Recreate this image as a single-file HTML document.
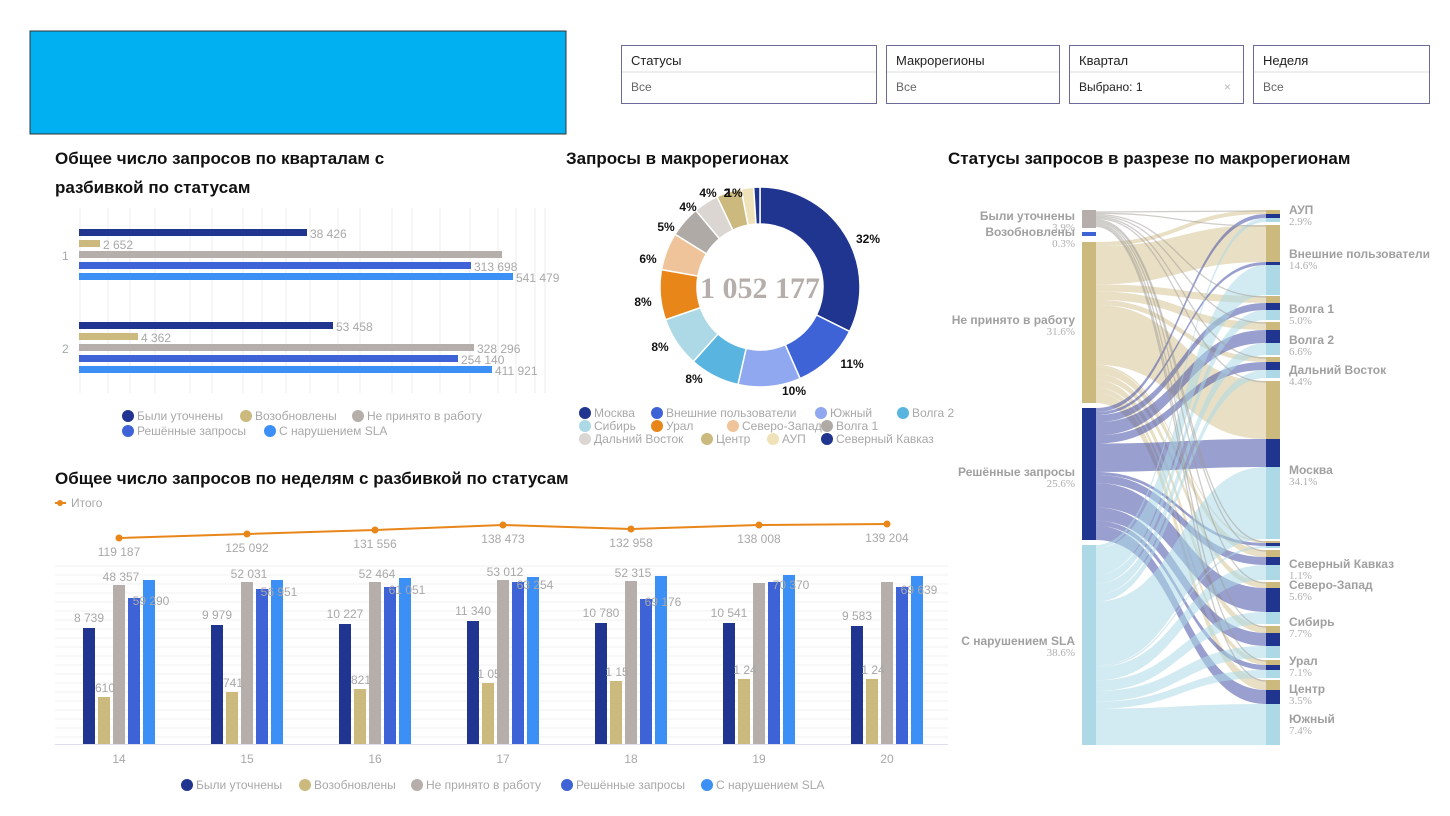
<!DOCTYPE html>
<html><head><meta charset="utf-8"><style>
body{margin:0;background:#fff;}
svg{display:block;font-family:"Liberation Sans",sans-serif;}
.t{font-weight:bold;font-size:17px;fill:#111}
.g{fill:#a8a8a8;font-size:12px}
.p{font-weight:bold;font-size:12px;fill:#111}
</style></head><body>
<svg id="s" width="1450" height="816" xmlns="http://www.w3.org/2000/svg">
<rect x="30" y="31" width="536" height="103" fill="#00b0f0" stroke="#333" stroke-width="1"/>
<g font-size="13" fill="#222">
<rect x="621.5" y="45.5" width="255" height="58" fill="#fff" stroke="#6b6b9a"/><text x="631" y="65">Статусы</text><line x1="622" y1="72" x2="876" y2="72" stroke="#ddd"/><text x="631" y="91" fill="#666" font-size="12">Все</text>
<rect x="886.5" y="45.5" width="173" height="58" fill="#fff" stroke="#6b6b9a"/><text x="896" y="65">Макрорегионы</text><line x1="887" y1="72" x2="1059" y2="72" stroke="#ddd"/><text x="896" y="91" fill="#666" font-size="12">Все</text>
<rect x="1069.5" y="45.5" width="174" height="58" fill="#fff" stroke="#6b6b9a"/><text x="1079" y="65">Квартал</text><line x1="1070" y1="72" x2="1243" y2="72" stroke="#ddd"/><text x="1079" y="91" font-size="12">Выбрано: 1</text><text x="1224" y="91" fill="#bbb" font-size="12">×</text>
<rect x="1253.5" y="45.5" width="176" height="58" fill="#fff" stroke="#6b6b9a"/><text x="1263" y="65">Неделя</text><line x1="1254" y1="72" x2="1429" y2="72" stroke="#ddd"/><text x="1263" y="91" fill="#666" font-size="12">Все</text>
</g>
<text class="t" x="55" y="164">Общее число запросов по кварталам с</text>
<text class="t" x="55" y="193">разбивкой по статусам</text>
<text class="t" x="566" y="164">Запросы в макрорегионах</text>
<text class="t" x="948" y="164">Статусы запросов в разрезе по макрорегионам</text>
<text class="t" x="55" y="484">Общее число запросов по неделям с разбивкой по статусам</text>
<g id="hb"></g><g id="dn"></g><g id="wk"></g><g id="sk"></g>
</svg>
<script>
var NS="http://www.w3.org/2000/svg";
function el(p,t,a,txt){var e=document.createElementNS(NS,t);for(var k in a)e.setAttribute(k,a[k]);if(txt!=null)e.textContent=txt;document.getElementById(p).appendChild(e);return e;}
var C=["#1f3590","#cbb97e","#b5aeaa","#3e63d6","#3b8ff5"];
// horizontal bars
[80,108,130,155,190,212,243,262,286,310,338,360,392,412,440,470,498,516,535,545].forEach(function(x){el("hb","line",{x1:x,y1:208,x2:x,y2:393,stroke:"#eee"});});
var g1=[[307,"38 426"],[100,"2 652"],[502,""],[471,"313 698"],[513,"541 479"]],g2=[[333,"53 458"],[138,"4 362"],[474,"328 296"],[458,"254 140"],[492,"411 921"]];
function hg(g,y0){g.forEach(function(b,i){var y=y0+i*11;el("hb","rect",{x:79,y:y,width:b[0]-79,height:7,fill:C[i]});if(b[1])el("hb","text",{x:b[0]+3,y:y+9,"class":"g"},b[1]);});}
hg(g1,229);hg(g2,322);
el("hb","text",{x:62,y:260,"class":"g",'font-size':11},"1");el("hb","text",{x:62,y:353,"class":"g",'font-size':11},"2");
function leg(p,items,x,y){items.forEach(function(it){el(p,"circle",{cx:it[0]+x,cy:y-4,r:6,fill:it[2]});el(p,"text",{x:it[0]+x+9,y:y,"class":"g",'font-size':12},it[1]);});}
leg("hb",[[0,"Были уточнены",C[0]],[118,"Возобновлены",C[1]],[230,"Не принято в работу",C[2]]],128,420);
leg("hb",[[0,"Решённые запросы",C[3]],[142,"С нарушением SLA",C[4]]],128,435);
// donut
var cx=760,cy=287,R=100,r=63;
var sl=[[32,"#1f3590","32%"],[11,"#3e63d6","11%"],[10,"#8fa8f0","10%"],[8,"#5ab4e0","8%"],[8,"#add8e6","8%"],[8,"#e8861a","8%"],[6,"#f0c49a","6%"],[5,"#b0aaa6","5%"],[4,"#dcd6d2","4%"],[4,"#cbb97e","4%"],[2,"#f0e2b8","2%"],[1,"#1f3590","1%"]];
var tot=99,a=0;
sl.forEach(function(s){var a0=a,a1=a+s[0]/tot*2*Math.PI;a=a1;
function P(rr,an){return [cx+rr*Math.sin(an),cy-rr*Math.cos(an)];}
var p1=P(R,a0),p2=P(R,a1),p3=P(r,a1),p4=P(r,a0),lg=(a1-a0)>Math.PI?1:0;
el("dn","path",{d:"M"+p1+"A"+R+","+R+" 0 "+lg+" 1 "+p2+"L"+p3+"A"+r+","+r+" 0 "+lg+" 0 "+p4+"Z",fill:s[1],stroke:"#fff","stroke-width":1.5});});
var lbl=[[868,243,"32%"],[852,368,"11%"],[794,395,"10%"],[694,383,"8%"],[660,351,"8%"],[643,306,"8%"],[648,263,"6%"],[666,231,"5%"],[688,211,"4%"],[708,197,"4%"],[727,197,"2"],[734,197,"1%"]];
lbl.forEach(function(l){el("dn","text",{x:l[0],y:l[1],"class":"p","text-anchor":"middle"},l[2]);});
el("dn","text",{x:cx,y:cy+11,"text-anchor":"middle","font-family":"Liberation Serif,serif","font-weight":"bold","font-size":30,fill:"#b5aeaa"},"1 052 177");
leg("dn",[[0,"Москва","#1f3590"],[72,"Внешние пользователи","#3e63d6"],[236,"Южный","#8fa8f0"],[318,"Волга 2","#5ab4e0"]],585,417);
leg("dn",[[0,"Сибирь","#add8e6"],[72,"Урал","#e8861a"],[148,"Северо-Запад","#f0c49a"],[242,"Волга 1","#b0aaa6"]],585,430);
leg("dn",[[0,"Дальний Восток","#dcd6d2"],[122,"Центр","#cbb97e"],[188,"АУП","#f0e2b8"],[242,"Северный Кавказ","#1f3590"]],585,443);
// weekly
for(var y=566;y<744;y+=9)el("wk","line",{x1:55,y1:y,x2:948,y2:y,stroke:"#f0f0f0"});
el("wk","line",{x1:55,y1:744.5,x2:948,y2:744.5,stroke:"#dde"});
var W=[[14,628,697,585,598,580,"8 739","610","48 357","59 290","119 187",538],
[15,625,692,582,589,580,"9 979","741","52 031","56 951","125 092",534],
[16,624,689,582,587,578,"10 227","821","52 464","61 051","131 556",530],
[17,621,683,580,582,577,"11 340","1 05","53 012","63 254","138 473",525],
[18,623,681,581,599,576,"10 780","1 15","52 315","69 176","132 958",529],
[19,623,679,583,582,575,"10 541","1 24","","70 370","138 008",525],
[20,626,679,582,587,576,"9 583","1 24","","69 639","139 204",524]];
var pts=[];
W.forEach(function(w,i){var c=119+i*128;
for(var j=0;j<5;j++)el("wk","rect",{x:c-36+j*15,y:w[j+1],width:12,height:744-w[j+1],fill:C[j]});
el("wk","text",{x:c-30,y:w[1]-6,"class":"g","text-anchor":"middle"},w[6]);
el("wk","text",{x:c-14,y:w[2]-5,"class":"g","text-anchor":"middle"},w[7]);
if(w[8])el("wk","text",{x:c+2,y:w[3]-4,"class":"g","text-anchor":"middle"},w[8]);
el("wk","text",{x:c+32,y:w[4]+7,"class":"g","text-anchor":"middle"},w[9]);
el("wk","text",{x:c,y:w[11]+18,"class":"g","text-anchor":"middle",'font-size':13},w[10]);
el("wk","text",{x:c,y:763,"class":"g","text-anchor":"middle"},w[0]);
pts.push(c+","+w[11]);});
el("wk","polyline",{points:pts.join(" "),fill:"none",stroke:"#e8861a","stroke-width":2});
pts.forEach(function(p){var q=p.split(",");el("wk","circle",{cx:q[0],cy:q[1],r:3.5,fill:"#e8861a"});});
el("wk","line",{x1:55,y1:503,x2:66,y2:503,stroke:"#e8861a","stroke-width":2});el("wk","circle",{cx:60,cy:503,r:3,fill:"#e8861a"});
el("wk","text",{x:71,y:507,"class":"g",'font-size':11},"Итого");
leg("wk",[[0,"Были уточнены",C[0]],[118,"Возобновлены",C[1]],[230,"Не принято в работу",C[2]],[380,"Решённые запросы",C[3]],[520,"С нарушением SLA",C[4]]],187,789);
// sankey
var X0=1096,X1=1266;
var reg=[["АУП","2.9%",210,[4,4,4],214],["Внешние пользователи","14.6%",225,[37,3,30],258],["Волга 1","5.0%",296,[7,7,10],313],["Волга 2","6.6%",322,[8,13,12],344],["Дальний Восток","4.4%",357,[5,8,8],374],["Москва","34.1%",381,[58,28,72],474],["Северный Кавказ","1.1%",541,[2,3,2],568],["Северо-Запад","5.6%",550,[7,8,15],589],["Сибирь","7.7%",582,[6,24,12],626],["Урал","7.1%",626,[7,13,12],665],["Центр","3.5%",660,[5,5,8],693],["Южный","7.4%",680,[10,14,41],723]];
var src=[[242,403,0,"rgba(203,185,126,0.45)","#cbb97e"],[408,540,1,"rgba(70,80,165,0.55)","#1f3590"],[545,745,2,"rgba(173,216,230,0.55)","#add8e6"]];
var flows=[];
src.forEach(function(s){var sum=0;reg.forEach(function(r){sum+=r[3][s[2]];});var k=(s[1]-s[0])/sum,y=s[0];
reg.forEach(function(r){var h=r[3][s[2]];var ty=r[2];for(var q=0;q<s[2];q++)ty+=r[3][q];flows.push([y,y+h*k,ty,ty+h,s[3]]);y+=h*k;});});
flows.forEach(function(f){var m=(X0+X1)/2;
el("sk","path",{d:"M"+X0+","+f[0]+"C"+m+","+f[0]+" "+m+","+f[2]+" "+X1+","+f[2]+"L"+X1+","+f[3]+"C"+m+","+f[3]+" "+m+","+f[1]+" "+X0+","+f[1]+"Z",fill:f[4]});});
reg.forEach(function(r,i){var y=r[2]+1;el("sk","path",{d:"M"+X0+","+(212+i*1.3)+"C1180,"+(212+i*1.3)+" 1180,"+y+" "+X1+","+y,stroke:"rgba(160,155,150,0.5)","stroke-width":1.3,fill:"none"});});
src.forEach(function(s){el("sk","rect",{x:1082,y:s[0],width:14,height:s[1]-s[0],fill:s[4]});});
el("sk","rect",{x:1082,y:210,width:14,height:18,fill:"#b5aeaa"});el("sk","rect",{x:1082,y:232,width:14,height:4,fill:"#3e63d6"});
reg.forEach(function(r){var y=r[2];for(var q=0;q<3;q++){el("sk","rect",{x:1266,y:y,width:14,height:r[3][q],fill:src[q][4]});y+=r[3][q];}
el("sk","text",{x:1289,y:r[4],"font-weight":"bold","font-size":12,fill:"#a0a0a0"},r[0]);
el("sk","text",{x:1289,y:r[4]+11,"font-family":"Liberation Serif,serif","font-size":11,fill:"#b0b0b0"},r[1]);});
[["Были уточнены","3.9%",220],["Возобновлены","0.3%",236],["Не принято в работу","31.6%",324],["Решённые запросы","25.6%",476],["С нарушением SLA","38.6%",645]].forEach(function(l){
el("sk","text",{x:1075,y:l[2],"text-anchor":"end","font-weight":"bold","font-size":12,fill:"#a0a0a0"},l[0]);
el("sk","text",{x:1075,y:l[2]+11,"text-anchor":"end","font-family":"Liberation Serif,serif","font-size":11,fill:"#b0b0b0"},l[1]);});
</script>
</body></html>
